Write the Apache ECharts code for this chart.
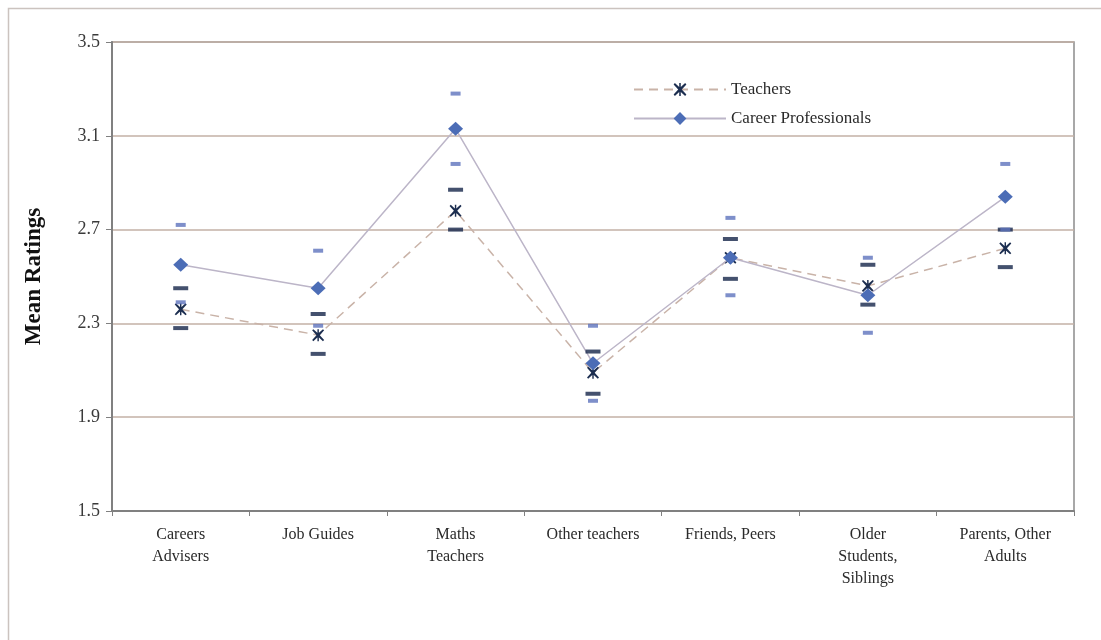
<!DOCTYPE html>
<html>
<head>
<meta charset="utf-8">
<title>Mean Ratings</title>
<script src="https://cdn.jsdelivr.net/npm/echarts@6/dist/echarts.min.js"></script>
<style>
  html, body { margin: 0; padding: 0; background: #ffffff; }
  #chart { width: 1101px; height: 640px; }
</style>
</head>
<body>
<div id="chart"></div>
<script>
// Influence sources on the category axis
const categories = [
  'Careers\nAdvisers',
  'Job Guides',
  'Maths\nTeachers',
  'Other teachers',
  'Friends, Peers',
  'Older\nStudents,\nSiblings',
  'Parents, Other\nAdults'
];

// Teachers: mean rating with upper / lower error bar ends
const teachersMean  = [2.36, 2.25, 2.78, 2.09, 2.58, 2.46, 2.62];
const teachersUpper = [2.45, 2.34, 2.87, 2.18, 2.66, 2.55, 2.70];
const teachersLower = [2.28, 2.17, 2.70, 2.00, 2.49, 2.38, 2.54];

// Career professionals: mean rating with upper / lower error bar ends
const careerMean  = [2.55, 2.45, 3.13, 2.13, 2.58, 2.42, 2.84];
const careerUpper = [2.72, 2.61, 3.28, 2.29, 2.75, 2.58, 2.98];
const careerLower = [2.39, 2.29, 2.98, 1.97, 2.42, 2.26, 2.70];

// Y axis ticks
const yTicks = [1.5, 1.9, 2.3, 2.7, 3.1, 3.5];

const serif = '"Liberation Serif", "DejaVu Serif", serif';

// Star marker: an X crossed by a vertical stroke
const starPath = 'path://M1,0 L5,3.6 L9,0 L10,1 L6.4,5 L10,9 L9,10 L5,6.4 L1,10 L0,9 L3.6,5 L0,1 Z ' +
                 'M4.4,0 L5.6,0 L5.6,10 L4.4,10 Z';

function barSeries(values, color, size, z) {
  return {
    type: 'scatter',
    data: values,
    symbol: 'rect',
    symbolSize: size,
    itemStyle: { color: color },
    silent: true,
    z: z,
    legendHoverLink: false
  };
}

const chart = echarts.init(document.getElementById('chart'), null, { renderer: 'canvas' });

chart.setOption({
  backgroundColor: '#ffffff',
  animation: false,
  graphic: [{
    type: 'rect',
    left: 6, top: 6,
    shape: { width: 1120, height: 700 },
    style: { fill: 'none', stroke: '#cbc3bf', lineWidth: 1.5 },
    silent: true
  }],
  grid: {
    left: 112, right: 27, top: 42, bottom: 129,
    show: true,
    borderColor: '#8c8c8c',
    borderWidth: 1.5,
    backgroundColor: 'transparent'
  },
  legend: {
    left: 628, top: 76,
    orient: 'vertical',
    itemWidth: 92,
    itemHeight: 16,
    itemGap: 12,
    data: ['Teachers', 'Career Professionals'],
    textStyle: { fontFamily: serif, fontSize: 17, color: '#2a2a2a', padding: [0, 0, 0, 0] }
  },
  xAxis: {
    type: 'category',
    data: categories,
    boundaryGap: true,
    axisLine: { lineStyle: { color: '#808080', width: 2 } },
    axisTick: { show: true, length: 5, alignWithLabel: false, lineStyle: { color: '#808080', width: 1 } },
    axisLabel: {
      interval: 0,
      margin: 13,
      fontFamily: serif,
      fontSize: 16,
      lineHeight: 22,
      color: '#2a2a2a'
    },
    splitLine: { show: false }
  },
  yAxis: {
    type: 'value',
    min: 1.5,
    max: 3.5,
    name: 'Mean Ratings',
    nameLocation: 'middle',
    nameGap: 66,
    nameRotate: 90,
    nameTextStyle: { fontFamily: serif, fontSize: 23, fontWeight: 'bold', color: '#111111' },
    axisLine: { show: true, lineStyle: { color: '#808080', width: 2 } },
    axisTick: { show: true, length: 6, customValues: yTicks, lineStyle: { color: '#808080', width: 1 } },
    axisLabel: {
      customValues: yTicks,
      margin: 12,
      fontFamily: serif,
      fontSize: 18,
      color: '#3a3a3a',
      formatter: v => v.toFixed(1)
    },
    splitLine: { show: true, lineStyle: { color: '#c3b0a6', width: 1.5 } }
  },
  series: [
    {
      name: 'Teachers',
      type: 'line',
      data: teachersMean,
      symbol: starPath,
      symbolSize: 12,
      showAllSymbol: true,
      itemStyle: { color: '#1c2e50' },
      lineStyle: { color: '#c9b3a8', width: 1.5, type: [9, 6] },
      z: 3
    },
    {
      name: 'Career Professionals',
      type: 'line',
      data: careerMean,
      symbol: 'diamond',
      symbolSize: [15, 14],
      showAllSymbol: true,
      itemStyle: { color: '#4c6db6' },
      lineStyle: { color: '#bcb5c8', width: 1.5, type: 'solid' },
      z: 4
    },
    barSeries(teachersUpper, '#15264a', [15, 4], 5),
    barSeries(teachersLower, '#15264a', [15, 4], 5),
    barSeries(careerUpper, '#5e73bd', [10, 4], 6),
    barSeries(careerLower, '#5e73bd', [10, 4], 6)
  ]
});
</script>
</body>
</html>
